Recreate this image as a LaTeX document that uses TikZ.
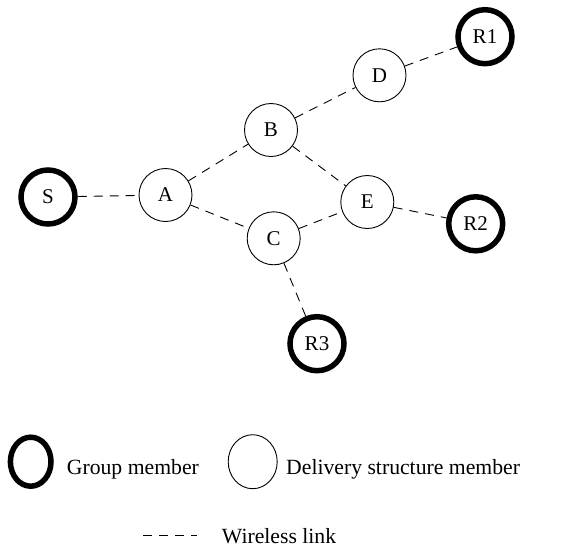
\documentclass[tikz,border=0pt]{standalone}
\usepackage{fontspec}
\setmainfont{Liberation Serif}
\usetikzlibrary{shapes.geometric}
\begin{document}
\begin{tikzpicture}[x=1pt,y=-1pt,
  member/.style={circle,draw,line width=5.5pt,minimum size=54pt,inner sep=0pt,font=\fontsize{21}{25}\selectfont},
  relay/.style={circle,draw,line width=0.9pt,minimum size=53pt,inner sep=0pt,font=\fontsize{21}{25}\selectfont},
  link/.style={line width=0.9pt,dash pattern=on 9pt off 7pt},
  legend/.style={anchor=base west,inner sep=0pt,font=\fontsize{21.7}{26}\selectfont}]
\useasboundingbox (0,0) rectangle (571,550);
\node[member] (S) at (48,197) {S};
\node[relay] (A) at (165.5,195) {A};
\node[relay] (B) at (271,130) {B};
\node[relay] (D) at (379.5,75.3) {D};
\node[member] (R1) at (485,36.7) {R1};
\node[relay] (E) at (367.3,202) {E};
\node[relay] (C) at (273.7,238.3) {C};
\node[member] (R2) at (475.7,223.8) {R2};
\node[member] (R3) at (317,343.7) {R3};
\draw[link] (S) -- (A);
\draw[link] (A) -- (B);
\draw[link] (A) -- (C);
\draw[link] (B) -- (D);
\draw[link] (D) -- (R1);
\draw[link] (B) -- (E);
\draw[link] (C) -- (E);
\draw[link] (E) -- (R2);
\draw[link] (C) -- (R3);
% legend
\node[ellipse,draw,line width=5.5pt,minimum width=40.6pt,minimum height=49pt,inner sep=0pt] (LG) at (30.7,461.7) {};
\node[legend] (LGt) at (66.7,474.3) {Group member};
\node[ellipse,draw,line width=0.9pt,minimum width=49pt,minimum height=54pt,inner sep=0pt] (LD) at (252.7,461.7) {};
\node[legend] (LDt) at (286,474.3) {Delivery structure member};
\coordinate (W1) at (143,535);
\coordinate (W2) at (197,535);
\draw[link] (W1) -- (W2);
\node[legend] (LWt) at (221.7,543.3) {Wireless link};
\end{tikzpicture}
\end{document}
